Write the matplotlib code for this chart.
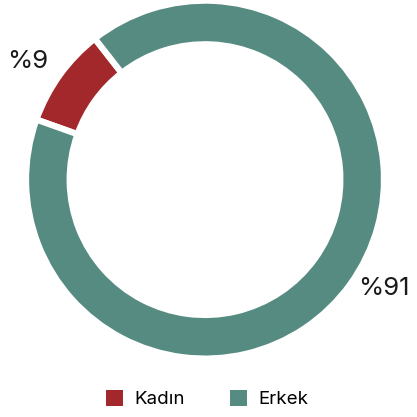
import matplotlib
matplotlib.use("Agg")
import matplotlib.pyplot as plt
from matplotlib.patches import Patch

# data
labels = ["Kadın", "Erkek"]
values = [9, 91]
pct_labels = ["%9", "%91"]
colors = ["#a3282b", "#568b81"]

plt.rcParams["font.family"] = ["Inter", "DejaVu Sans"]

fig = plt.figure(figsize=(4.17, 4.17), dpi=100)
ax = fig.add_axes([0.0624, 0.140, 0.8585, 0.8585])

ax.pie(values, colors=colors, startangle=128, counterclock=True,
       radius=1.0, wedgeprops=dict(width=0.244, edgecolor="white", linewidth=4.5))
ax.set_xlim(-1, 1)
ax.set_ylim(-1, 1)
ax.set_aspect("equal")
ax.axis("off")

# percentage labels
ax.text(-0.99, 0.66, pct_labels[0], fontsize=18.5, ha="center", va="center", color="#1a1a1a")
ax.text(1.0, -0.61, pct_labels[1], fontsize=18.5, ha="center", va="center", color="#1a1a1a")

handles = [Patch(facecolor=c, edgecolor="none") for c in colors]
fig.legend(handles, labels, loc="center", bbox_to_anchor=(0.497, 0.043), ncol=2,
           frameon=False, fontsize=13.5, handlelength=0.9, handleheight=0.9,
           handletextpad=0.6, columnspacing=2.4)

fig.savefig("out.png", dpi=100, facecolor="white")
